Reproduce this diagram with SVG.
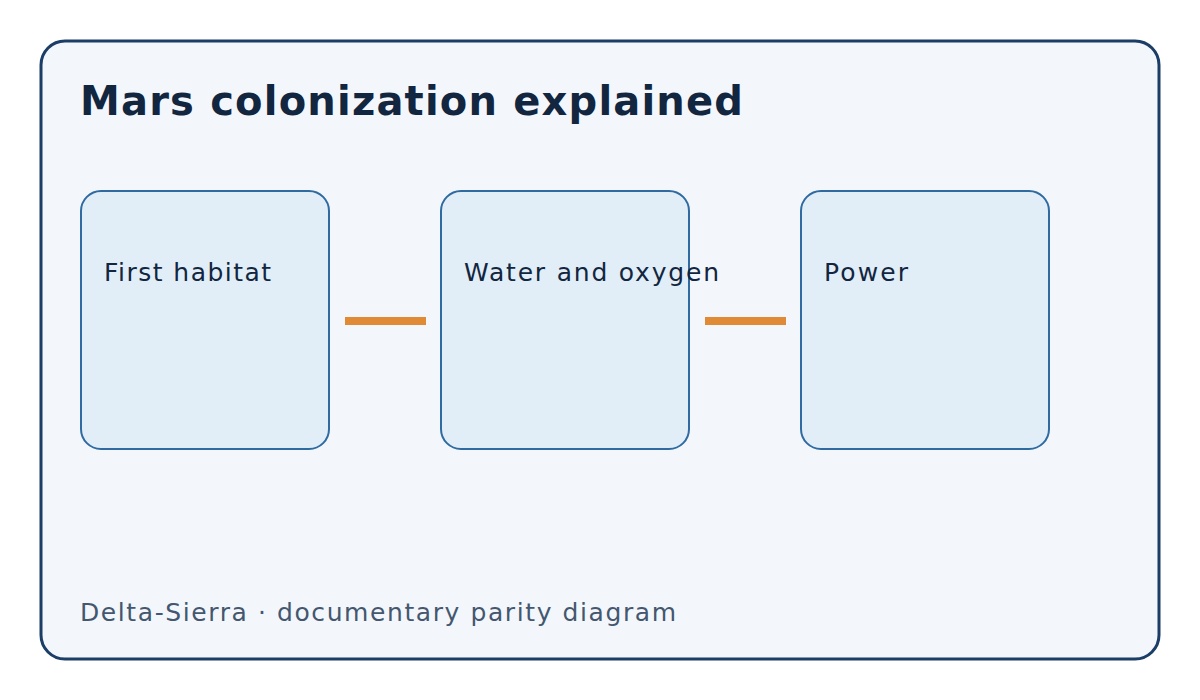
<svg xmlns="http://www.w3.org/2000/svg" width="1200" height="700" viewBox="0 0 1200 700">
<style>
.node{fill:#e1eef8;stroke:#2f6aa0;stroke-width:2}
.lbl{font-family:"DejaVu Sans",sans-serif;font-size:25px;fill:#12263f}
.con{stroke:#e08a35;stroke-width:8}
</style>
<rect x="0" y="0" width="1200" height="700" fill="#ffffff"/>
<rect x="41" y="41" width="1118" height="618" rx="24" fill="#f3f7fc" stroke="#1b3d66" stroke-width="3"/>
<text x="80" y="115" font-family="DejaVu Sans,sans-serif" font-size="40" font-weight="bold" fill="#12263f" textLength="663" lengthAdjust="spacing">Mars colonization explained</text>
<g id="connectors">
<line class="con" x1="345" y1="321" x2="426" y2="321"/>
<line class="con" x1="705" y1="321" x2="786" y2="321"/>
</g>
<g id="n1"><rect class="node" x="81" y="191" width="248" height="258" rx="20"/><text class="lbl" x="104" y="281" textLength="167" lengthAdjust="spacing">First habitat</text></g>
<g id="n2"><rect class="node" x="441" y="191" width="248" height="258" rx="20"/><text class="lbl" x="464" y="281" textLength="255" lengthAdjust="spacing">Water and oxygen</text></g>
<g id="n3"><rect class="node" x="801" y="191" width="248" height="258" rx="20"/><text class="lbl" x="824" y="281" textLength="84" lengthAdjust="spacing">Power</text></g>
<text x="80" y="621" font-family="DejaVu Sans,sans-serif" font-size="25" fill="#44576f" textLength="596" lengthAdjust="spacing">Delta-Sierra · documentary parity diagram</text>
</svg>
